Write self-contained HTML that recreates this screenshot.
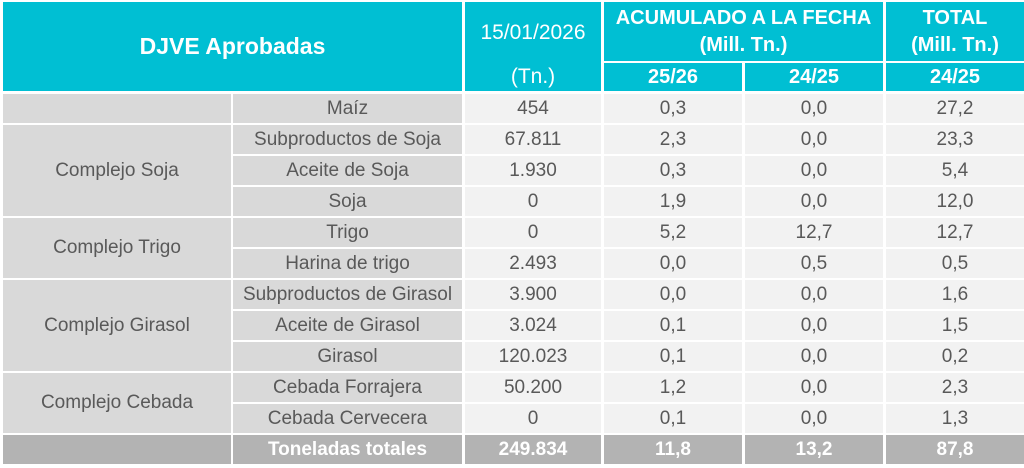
<!DOCTYPE html>
<html><head><meta charset="utf-8"><style>
body{margin:0;width:1024px;height:468px;background:#fff;position:relative;overflow:hidden;font-family:"Liberation Sans",sans-serif;}
.c{position:absolute;display:flex;align-items:center;justify-content:center;text-align:center;color:#595959;font-size:19px;box-sizing:border-box;}
.h{background:#00bfd3;color:#fff;font-weight:bold;font-size:20px;line-height:27px;}
.g{background:#d9d9d9;}
.d{background:#f2f2f2;}
.t{background:#b3b3b3;color:#fff;font-weight:bold;}
</style></head><body>
<div class="c h" style="left:3px;top:2px;width:459px;height:89px;font-size:23px">DJVE Aprobadas</div>
<div class="c h" style="left:465px;top:2px;width:136px;height:60px;font-weight:normal;font-size:21px">15/01/2026</div>
<div class="c h" style="left:465px;top:62px;width:136px;height:29px;font-weight:normal;font-size:21px">(Tn.)</div>
<div class="c h" style="left:604px;top:2px;width:279px;height:59px">ACUMULADO A LA FECHA<br>(Mill. Tn.)</div>
<div class="c h" style="left:604px;top:63px;width:138px;height:28px">25/26</div>
<div class="c h" style="left:745px;top:63px;width:138px;height:28px">24/25</div>
<div class="c h" style="left:886px;top:2px;width:138px;height:59px">TOTAL<br>(Mill. Tn.)</div>
<div class="c h" style="left:886px;top:63px;width:138px;height:28px">24/25</div>

<div class="c g" style="left:3px;top:94px;width:228px;height:29px"></div>
<div class="c g" style="left:3px;top:125px;width:228px;height:91px">Complejo Soja</div>
<div class="c g" style="left:3px;top:218px;width:228px;height:60px">Complejo Trigo</div>
<div class="c g" style="left:3px;top:280px;width:228px;height:91px">Complejo Girasol</div>
<div class="c g" style="left:3px;top:373px;width:228px;height:60px">Complejo Cebada</div>

<div class="c g" style="left:233px;top:94px;width:229px;height:29px">Maíz</div>
<div class="c d" style="left:465px;top:94px;width:136px;height:29px">454</div>
<div class="c d" style="left:604px;top:94px;width:138px;height:29px">0,3</div>
<div class="c d" style="left:745px;top:94px;width:138px;height:29px">0,0</div>
<div class="c d" style="left:886px;top:94px;width:138px;height:29px">27,2</div>

<div class="c g" style="left:233px;top:125px;width:229px;height:29px">Subproductos de Soja</div>
<div class="c d" style="left:465px;top:125px;width:136px;height:29px">67.811</div>
<div class="c d" style="left:604px;top:125px;width:138px;height:29px">2,3</div>
<div class="c d" style="left:745px;top:125px;width:138px;height:29px">0,0</div>
<div class="c d" style="left:886px;top:125px;width:138px;height:29px">23,3</div>

<div class="c g" style="left:233px;top:156px;width:229px;height:29px">Aceite de Soja</div>
<div class="c d" style="left:465px;top:156px;width:136px;height:29px">1.930</div>
<div class="c d" style="left:604px;top:156px;width:138px;height:29px">0,3</div>
<div class="c d" style="left:745px;top:156px;width:138px;height:29px">0,0</div>
<div class="c d" style="left:886px;top:156px;width:138px;height:29px">5,4</div>

<div class="c g" style="left:233px;top:187px;width:229px;height:29px">Soja</div>
<div class="c d" style="left:465px;top:187px;width:136px;height:29px">0</div>
<div class="c d" style="left:604px;top:187px;width:138px;height:29px">1,9</div>
<div class="c d" style="left:745px;top:187px;width:138px;height:29px">0,0</div>
<div class="c d" style="left:886px;top:187px;width:138px;height:29px">12,0</div>

<div class="c g" style="left:233px;top:218px;width:229px;height:29px">Trigo</div>
<div class="c d" style="left:465px;top:218px;width:136px;height:29px">0</div>
<div class="c d" style="left:604px;top:218px;width:138px;height:29px">5,2</div>
<div class="c d" style="left:745px;top:218px;width:138px;height:29px">12,7</div>
<div class="c d" style="left:886px;top:218px;width:138px;height:29px">12,7</div>

<div class="c g" style="left:233px;top:249px;width:229px;height:29px">Harina de trigo</div>
<div class="c d" style="left:465px;top:249px;width:136px;height:29px">2.493</div>
<div class="c d" style="left:604px;top:249px;width:138px;height:29px">0,0</div>
<div class="c d" style="left:745px;top:249px;width:138px;height:29px">0,5</div>
<div class="c d" style="left:886px;top:249px;width:138px;height:29px">0,5</div>

<div class="c g" style="left:233px;top:280px;width:229px;height:29px">Subproductos de Girasol</div>
<div class="c d" style="left:465px;top:280px;width:136px;height:29px">3.900</div>
<div class="c d" style="left:604px;top:280px;width:138px;height:29px">0,0</div>
<div class="c d" style="left:745px;top:280px;width:138px;height:29px">0,0</div>
<div class="c d" style="left:886px;top:280px;width:138px;height:29px">1,6</div>

<div class="c g" style="left:233px;top:311px;width:229px;height:29px">Aceite de Girasol</div>
<div class="c d" style="left:465px;top:311px;width:136px;height:29px">3.024</div>
<div class="c d" style="left:604px;top:311px;width:138px;height:29px">0,1</div>
<div class="c d" style="left:745px;top:311px;width:138px;height:29px">0,0</div>
<div class="c d" style="left:886px;top:311px;width:138px;height:29px">1,5</div>

<div class="c g" style="left:233px;top:342px;width:229px;height:29px">Girasol</div>
<div class="c d" style="left:465px;top:342px;width:136px;height:29px">120.023</div>
<div class="c d" style="left:604px;top:342px;width:138px;height:29px">0,1</div>
<div class="c d" style="left:745px;top:342px;width:138px;height:29px">0,0</div>
<div class="c d" style="left:886px;top:342px;width:138px;height:29px">0,2</div>

<div class="c g" style="left:233px;top:373px;width:229px;height:29px">Cebada Forrajera</div>
<div class="c d" style="left:465px;top:373px;width:136px;height:29px">50.200</div>
<div class="c d" style="left:604px;top:373px;width:138px;height:29px">1,2</div>
<div class="c d" style="left:745px;top:373px;width:138px;height:29px">0,0</div>
<div class="c d" style="left:886px;top:373px;width:138px;height:29px">2,3</div>

<div class="c g" style="left:233px;top:404px;width:229px;height:29px">Cebada Cervecera</div>
<div class="c d" style="left:465px;top:404px;width:136px;height:29px">0</div>
<div class="c d" style="left:604px;top:404px;width:138px;height:29px">0,1</div>
<div class="c d" style="left:745px;top:404px;width:138px;height:29px">0,0</div>
<div class="c d" style="left:886px;top:404px;width:138px;height:29px">1,3</div>

<div class="c t" style="left:3px;top:435px;width:228px;height:29px"></div>
<div class="c t" style="left:233px;top:435px;width:229px;height:29px">Toneladas totales</div>
<div class="c t" style="left:465px;top:435px;width:136px;height:29px">249.834</div>
<div class="c t" style="left:604px;top:435px;width:138px;height:29px">11,8</div>
<div class="c t" style="left:745px;top:435px;width:138px;height:29px">13,2</div>
<div class="c t" style="left:886px;top:435px;width:138px;height:29px">87,8</div>
</body></html>
